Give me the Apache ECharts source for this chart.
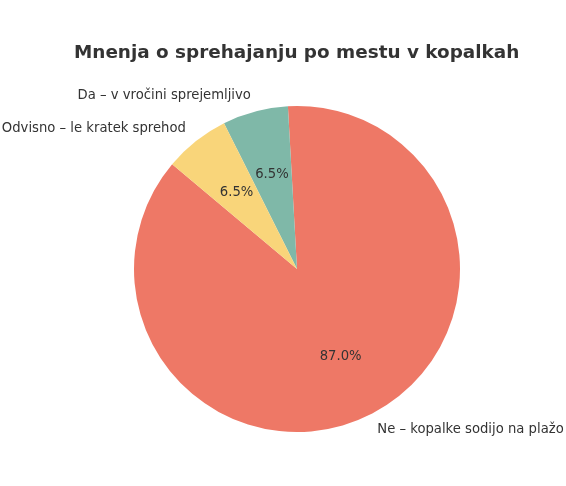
<!DOCTYPE html>
<html><head><meta charset="utf-8">
<script src="https://cdn.jsdelivr.net/npm/echarts@6/dist/echarts.min.js"></script>
<style>html,body{margin:0;padding:0;background:#fff}#c{width:566px;height:486px}</style>
</head><body><div id="c"></div>
<script>
const categories = ['Ne – kopalke sodijo na plažo', 'Da – v vročini sprejemljivo', 'Odvisno – le kratek sprehod'];
const values = [87.0, 6.5, 6.5];
const colors = ['#EE7866', '#7FB8A8', '#F9D57A'];

const R = 163;
const data = categories.map((c, i) => ({ name: c, value: values[i], itemStyle: { color: colors[i] } }));
const chart = echarts.init(document.getElementById('c'), null, { renderer: 'canvas' });
chart.setOption({
  animation: false,
  backgroundColor: '#fff',
  title: {
    text: 'Mnenja o sprehajanju po mestu v kopalkah',
    left: 69, top: 39,
    textStyle: { fontFamily: 'DejaVu Sans', fontWeight: 'bold', fontSize: 18.4, color: '#333' }
  },
  series: [
    {
      type: 'pie', center: [297, 269], radius: [0, R],
      startAngle: 140, clockwise: false, avoidLabelOverlap: false,
      data: data,
      label: { show: true, position: 'outside', formatter: '{b}', fontFamily: 'DejaVu Sans', fontSize: 13.2, color: '#333', distanceToLabelLine: 0, padding: [3, 0, 0, 0] },
      labelLine: { show: false, length: R * 0.1, length2: 0 },
      itemStyle: { borderWidth: 0 },
      emphasis: { disabled: true }
    },
    {
      type: 'pie', center: [297, 269], radius: [0, R * 1.16],
      startAngle: 140, clockwise: false, avoidLabelOverlap: false, silent: true, z: 5,
      data: data.map(d => ({ name: d.name, value: d.value, itemStyle: { color: 'rgba(0,0,0,0)' } })),
      label: { show: true, position: 'inside', formatter: p => p.value.toFixed(1) + '%', fontFamily: 'DejaVu Sans', fontSize: 13.2, color: '#333' },
      labelLine: { show: false },
      itemStyle: { borderWidth: 0 },
      emphasis: { disabled: true }
    }
  ]
});
</script></body></html>
